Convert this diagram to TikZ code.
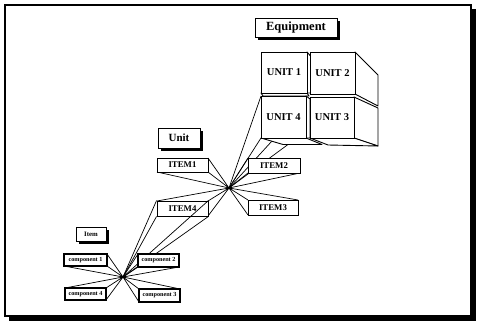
\documentclass[tikz,border=0pt]{standalone}
\usepackage{fontspec}
\setmainfont{Liberation Serif}
\usetikzlibrary{shadows}
\begin{document}
\begin{tikzpicture}[x=1pt,y=-1pt,
  fs/.style={font=\bfseries\fontsize{#1}{#1}\selectfont},
  title/.style={draw, line width=0.9pt, fill=white, inner sep=0pt,
    drop shadow={shadow xshift=3pt, shadow yshift=-3pt, fill=black, opacity=1}},
  itembox/.style={draw, line width=0.9pt, fill=white, inner sep=0pt, fs=8.8},
  compbox/.style={draw, line width=1.1pt, fill=white, inner sep=0pt, fs=6.2},
  cubeface/.style={draw, line width=0.9pt, fill=white, inner sep=0pt, fs=10.5},
  face/.style={draw, line width=0.9pt, fill=white, line join=round},
  ray/.style={line width=0.7pt}]
\useasboundingbox (0,0) rectangle (477,324);
% frame
\fill[black] (471,9) rectangle (475.5,320.5);
\fill[black] (9,316) rectangle (475.5,320.5);
\draw[line width=2pt] (5,5) rectangle (471,316);

% hubs
\coordinate (h1) at (229,188);
\coordinate (h2) at (123,277);

% cube block geometry
\coordinate (b4a) at (261,138);
\coordinate (b4b) at (306,138);
\coordinate (b4c) at (322,144.5);
\coordinate (b4d) at (283,144.5);
\coordinate (b3a) at (310,138);
\coordinate (b3b) at (354,138);
\coordinate (b3c) at (378,146);
\coordinate (b3d) at (328,145);
\coordinate (s2a) at (355,52);
\coordinate (s2b) at (378,75);
\coordinate (s2c) at (378,106);
\coordinate (s2d) at (355,94);
\coordinate (s3a) at (354,97);
\coordinate (s3b) at (378,108);
\coordinate (u4tl) at (261,96);
\coordinate (r4a) at (272,141);
\coordinate (r4b) at (288,144.5);

% rays from hub 1 to unit 4
\draw[ray] (h1) -- (u4tl);
\draw[ray] (h1) -- (b4a);
\draw[ray] (h1) -- (r4a);
\draw[ray] (h1) -- (r4b);

% side and bottom faces
\draw[face] (s2a) -- (s2b) -- (s2c) -- (s2d) -- cycle;
\draw[face] (s3a) -- (s3b) -- (b3c) -- (b3b) -- cycle;
\draw[face] (b4a) -- (b4b) -- (b4c) -- (b4d) -- cycle;
\draw[face] (b3a) -- (b3b) -- (b3c) -- (b3d) -- cycle;
\draw[face] (307,52) -- (310.5,56) -- (310.5,93) -- (307,93) -- cycle;
\draw[face] (261,93) -- (307,93) -- (309,96) -- (263,96) -- cycle;
\draw[face] (306,96) -- (310,99) -- (310,138) -- (306,138) -- cycle;

% cube fronts
\node[cubeface, minimum width=46pt, minimum height=41pt] (u1) at (284,72.5) {UNIT 1};
\node[cubeface, minimum width=45pt, minimum height=42pt] (u2) at (332.5,73) {UNIT 2};
\node[cubeface, minimum width=45pt, minimum height=42pt] (u4) at (283.5,117) {UNIT 4};
\node[cubeface, minimum width=44pt, minimum height=41pt] (u3) at (332,117.5) {UNIT 3};

% titles
\node[title, fs=12.5, minimum width=82pt, minimum height=19pt] (eq) at (296,27.5) {Equipment};
\node[title, fs=11, minimum width=42pt, minimum height=20pt] (unit) at (179,138) {Unit};
\node[title, fs=6.8, minimum width=30pt, minimum height=14pt] (item) at (91,234) {Item};

% item boxes positions (for rays)
\path (182.5,165) coordinate (i1c) (274,165.5) coordinate (i2c)
      (273,207.5) coordinate (i3c) (182.5,208.5) coordinate (i4c);

% rays from hub 1 to items
\draw[ray] (h1) -- (208,158) (h1) -- (208,172) (h1) -- (157,172);
\draw[ray] (h1) -- (248,158) (h1) -- (248,173) (h1) -- (300,173);
\draw[ray] (h1) -- (248,200) (h1) -- (248,215) (h1) -- (298,200);
\draw[ray] (h1) -- (157,201) (h1) -- (208,201) (h1) -- (208,216);

\node[itembox, minimum width=51pt, minimum height=14pt] (i1) at (i1c) {ITEM1};
\node[itembox, minimum width=52pt, minimum height=15pt] (i2) at (i2c) {ITEM2};
\node[itembox, minimum width=50pt, minimum height=15pt] (i3) at (i3c) {ITEM3};
\node[itembox, minimum width=51pt, minimum height=15pt] (i4) at (i4c) {ITEM4};

% rays from hub 2 to item 4
\draw[ray] (h2) -- (i4.north west);
\draw[ray] (h2) -- (i4.south west);
\draw[ray] (h2) -- (i4.north east);
\draw[ray] (h2) -- (i4.south east);

% rays from hub 2 to components
\draw[ray] (h2) -- (107,254) (h2) -- (107,266) (h2) -- (64,266);
\draw[ray] (h2) -- (138,254) (h2) -- (138,267) (h2) -- (179,267);
\draw[ray] (h2) -- (139,289) (h2) -- (139,302) (h2) -- (180,289);
\draw[ray] (h2) -- (65,288) (h2) -- (106,288) (h2) -- (106,300);

\node[compbox, minimum width=43pt, minimum height=12pt] (c1) at (85.5,260) {component 1};
\node[compbox, minimum width=41pt, minimum height=13pt] (c2) at (158.5,260.5) {component 2};
\node[compbox, minimum width=41pt, minimum height=13pt] (c3) at (159.5,295.5) {component 3};
\node[compbox, minimum width=41pt, minimum height=12pt] (c4) at (85.5,294) {component 4};

% hub blobs
\fill (h1) circle (1.4pt);
\fill (h2) circle (1.4pt);
\end{tikzpicture}
\end{document}
